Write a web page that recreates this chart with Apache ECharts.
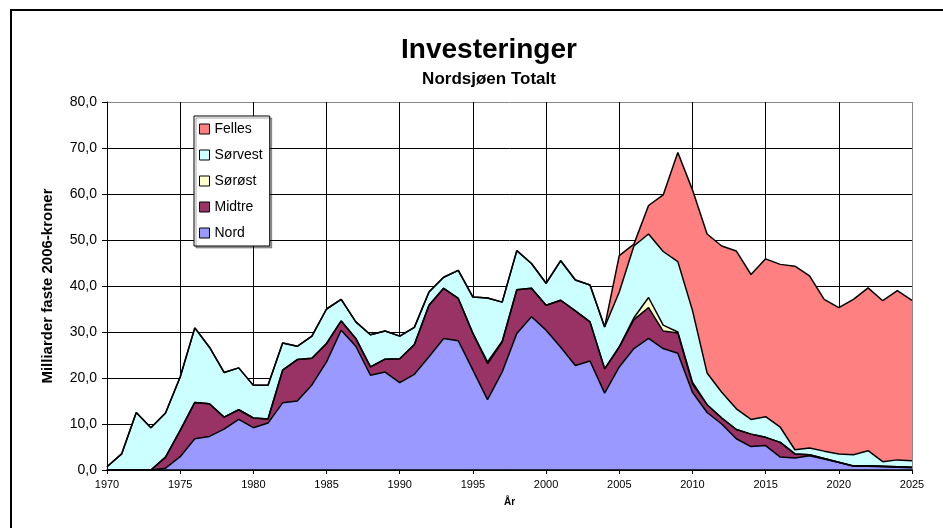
<!DOCTYPE html>
<html>
<head>
<meta charset="utf-8">
<script src="https://cdn.jsdelivr.net/npm/echarts@6/dist/echarts.min.js"></script>
<style>
  html, body { margin: 0; padding: 0; background: #fff; }
  #chart { width: 943px; height: 528px; }
</style>
</head>
<body>
<div id="chart"></div>
<script>
var years = ['1970','1971','1972','1973','1974','1975','1976','1977','1978','1979',
  '1980','1981','1982','1983','1984','1985','1986','1987','1988','1989',
  '1990','1991','1992','1993','1994','1995','1996','1997','1998','1999',
  '2000','2001','2002','2003','2004','2005','2006','2007','2008','2009',
  '2010','2011','2012','2013','2014','2015','2016','2017','2018','2019',
  '2020','2021','2022','2023','2024','2025'];

var nord = [0, 0, 0, 0, 0.4, 2.9, 6.8, 7.3, 8.9, 11.0,
  9.2, 10.2, 14.6, 15.0, 18.5, 23.5, 30.4, 26.9, 20.6, 21.3,
  19.0, 20.8, 24.6, 28.6, 28.1, 21.7, 15.3, 21.3, 29.7, 33.3,
  30.4, 26.7, 22.7, 23.7, 16.7, 22.4, 26.4, 28.6, 26.4, 25.4,
  16.9, 12.5, 10.0, 6.8, 5.1, 5.3, 2.8, 2.6, 3.1, 2.4,
  1.6, 0.8, 0.8, 0.7, 0.6, 0.5];

var midtre = [0, 0, 0, 0, 2.4, 5.7, 7.9, 7.1, 2.6, 2.1,
  2.1, 0.9, 7.1, 9.0, 5.8, 4.0, 2.0, 1.7, 1.8, 2.8,
  5.2, 6.5, 11.2, 10.9, 9.2, 8.0, 7.8, 6.5, 9.5, 6.2,
  5.4, 10.2, 11.9, 8.5, 5.3, 4.3, 6.3, 6.7, 3.8, 4.4,
  1.8, 1.7, 1.3, 2.0, 2.7, 1.8, 3.2, 0.9, 0.2, 0.1,
  0.1, 0.1, 0.1, 0.1, 0.1, 0.1];

var sorost = [0, 0, 0, 0, 0, 0, 0, 0, 0, 0,
  0, 0, 0, 0, 0, 0, 0, 0, 0, 0,
  0, 0, 0, 0, 0, 0, 0.4, 0.2, 0, 0,
  0, 0, 0, 0, 0, 0.1, 0.4, 2.2, 1.3, 0.2,
  0.4, 0, 0, 0, 0, 0, 0, 0, 0, 0,
  0, 0, 0, 0, 0, 0];

var sorvest = [0.7, 3.5, 12.5, 9.2, 9.6, 11.6, 16.2, 12.3, 9.7, 9.1,
  7.1, 7.3, 5.9, 2.9, 4.8, 7.5, 4.7, 3.6, 7.0, 6.1,
  4.9, 3.7, 2.9, 2.4, 6.1, 7.9, 13.9, 8.5, 8.5, 5.4,
  4.8, 8.6, 6.7, 8.0, 9.1, 11.9, 15.6, 13.8, 16.0, 15.3,
  15.6, 6.9, 5.6, 4.5, 3.2, 4.5, 3.3, 0.9, 1.5, 1.6,
  1.8, 2.4, 3.3, 1.0, 1.5, 1.4];

var felles = [0, 0, 0, 0, 0, 0, 0, 0, 0, 0,
  0, 0, 0, 0, 0, 0, 0, 0, 0, 0,
  0, 0, 0, 0, 0, 0, 0, 0, 0, 0,
  0, 0, 0, 0, 0, 7.9, 0.4, 6.2, 12.3, 23.7,
  26.2, 30.2, 31.8, 34.3, 31.5, 34.3, 35.4, 39.9, 37.4, 33.0,
  31.8, 33.8, 35.4, 35.0, 36.8, 34.9];

var seriesNames = ['Nord', 'Midtre', 'Sørøst', 'Sørvest', 'Felles'];
var seriesData = [nord, midtre, sorost, sorvest, felles];
var colors = ['#9999FF', '#993366', '#FFFFCC', '#CCFFFF', '#FF8080'];

var font = 'Liberation Sans, Arial, sans-serif';

function drawChart() {
    var dom = document.getElementById('chart');
    var myChart = echarts.init(dom, null, { renderer: 'canvas' });

    var series = seriesNames.map(function (name, i) {
        return {
            name: name,
            type: 'line',
            stack: 'total',
            symbol: 'none',
            data: seriesData[i],
            lineStyle: { color: '#000', width: 1.5 },
            itemStyle: { color: colors[i] },
            areaStyle: { color: colors[i], opacity: 1 },
            z: 2
        };
    });

    var legendData = seriesNames.slice().reverse().map(function (name) {
        var i = seriesNames.indexOf(name);
        return {
            name: name,
            itemStyle: { color: colors[i], borderColor: '#000', borderWidth: 1 }
        };
    });

    var ySplitColors = ['#000', '#000', '#000', '#000', '#000', '#000', '#000', '#000', '#888'];
    var xSplitColors = ['#000', '#000', '#000', '#000', '#000', '#000', '#000', '#000', '#000', '#000', '#000', '#888'];

    var option = {
        animation: false,
        backgroundColor: '#fff',
        textStyle: { fontFamily: font },
        title: [
            {
                text: 'Investeringer',
                left: 484,
                top: 31,
                textAlign: 'center',
                textStyle: { fontSize: 28, fontWeight: 'bold', color: '#000', fontFamily: font }
            },
            {
                text: 'Nordsjøen Totalt',
                left: 484,
                top: 66,
                textAlign: 'center',
                textStyle: { fontSize: 17, fontWeight: 'bold', color: '#000', fontFamily: font }
            }
        ],
        graphic: [
            {
                type: 'rect',
                shape: { x: 11, y: 10, width: 980, height: 560 },
                style: { fill: 'none', stroke: '#000', lineWidth: 2 },
                silent: true
            }
        ],
        legend: {
            orient: 'vertical',
            left: 194,
            top: 116,
            padding: [6, 7, 6, 5],
            itemGap: 12,
            itemWidth: 10,
            itemHeight: 10,
            icon: 'rect',
            backgroundColor: '#fff',
            borderColor: '#000',
            borderWidth: 1,
            shadowColor: 'rgba(0,0,0,0.35)',
            shadowOffsetX: 2,
            shadowOffsetY: 2,
            textStyle: { fontSize: 14, color: '#000', fontFamily: font },
            data: legendData
        },
        grid: {
            left: 107,
            right: 31,
            top: 102,
            bottom: 58
        },
        xAxis: [
            {
                type: 'category',
                data: years,
                boundaryGap: false,
                name: 'År',
                nameLocation: 'middle',
                nameGap: 27,
                nameTextStyle: { fontSize: 10, fontWeight: 'bold', color: '#000' },
                axisLine: { show: false },
                axisTick: { show: false },
                axisLabel: { interval: 4, margin: 9, fontSize: 11, color: '#000' },
                splitLine: { show: true, interval: 4, lineStyle: { color: xSplitColors, width: 1 } },
                z: 0
            },
            {
                // only the axis line and ticks, drawn on top of the areas
                type: 'category',
                data: years,
                boundaryGap: false,
                position: 'bottom',
                axisLine: { onZero: false, lineStyle: { color: '#000', width: 1.5 } },
                axisTick: { interval: 4, length: 4, lineStyle: { color: '#000' } },
                axisLabel: { show: false },
                splitLine: { show: false },
                z: 5
            }
        ],
        yAxis: [
            {
                type: 'value',
                min: 0,
                max: 80,
                interval: 10,
                name: 'Milliarder faste 2006-kroner',
                nameLocation: 'middle',
                nameGap: 52,
                nameTextStyle: { fontSize: 15, fontWeight: 'bold', color: '#000' },
                axisLine: { show: false },
                axisTick: { show: false },
                axisLabel: {
                    margin: 10,
                    fontSize: 14,
                    color: '#000',
                    formatter: function (v) { return v.toFixed(1).replace('.', ','); }
                },
                splitLine: { show: true, lineStyle: { color: ySplitColors, width: 1 } },
                z: 0
            },
            {
                type: 'value',
                min: 0,
                max: 80,
                interval: 10,
                position: 'left',
                axisLine: { show: true, onZero: false, lineStyle: { color: '#000', width: 1 } },
                axisTick: { show: true, length: 5, lineStyle: { color: '#000' } },
                axisLabel: { show: false },
                splitLine: { show: false },
                z: 5
            }
        ],
        series: series
    };

    if (option && typeof option === 'object') {
        myChart.setOption(option);
    }

    window.addEventListener('resize', myChart.resize);
}

drawChart()
</script>
</body>
</html>
